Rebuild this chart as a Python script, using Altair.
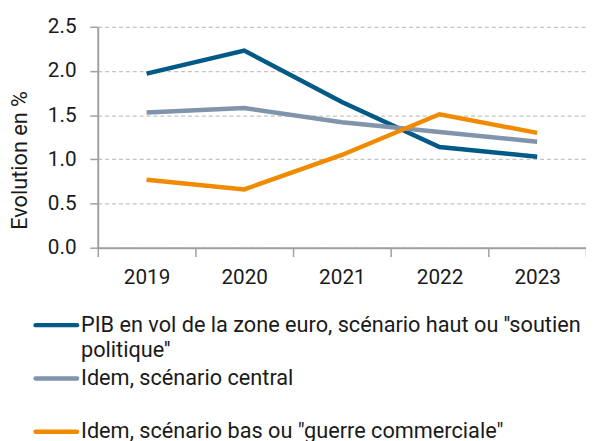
import altair as alt
import pandas as pd

years = ["2019", "2020", "2021", "2022", "2023"]
series = [
    "PIB en vol de la zone euro, scénario haut ou ''soutien|politique''",
    "Idem, scénario central",
    "Idem, scénario bas ou \"guerre commerciale\"",
]
haut = [1.97, 2.23, 1.65, 1.14, 1.03]
central = [1.53, 1.58, 1.42, 1.31, 1.20]
bas = [0.77, 0.66, 1.05, 1.51, 1.30]
colors = ["#005a87", "#8094ab", "#f08a00"]

rows = []
for s, vals in zip(series, [haut, central, bas]):
    for y, v in zip(years, vals):
        rows.append({"Année": y, "Série": s, "Valeur": v})
df = pd.DataFrame(rows)
legend_df = pd.DataFrame({"Série": series})

FONT = "Roboto"
TXT = "#1a1a1a"
AX = "#a0a0a0"
color_scale = alt.Scale(domain=series, range=colors)

main = alt.Chart(df).mark_line(strokeWidth=4.5, interpolate="linear").encode(
    x=alt.X("Année:O", title=None,
            scale=alt.Scale(type="band", paddingInner=0, paddingOuter=0),
            axis=alt.Axis(labelAngle=0, tickBand="extent", grid=False,
                          domainColor=AX, tickColor=AX, tickSize=9, tickWidth=1.5,
                          domainWidth=2, labelPadding=10, labelFontSize=21,
                          labelColor=TXT, labelFont=FONT)),
    y=alt.Y("Valeur:Q", title="Evolution en %",
            scale=alt.Scale(domain=[0, 2.5], nice=False),
            axis=alt.Axis(values=[0, 0.5, 1.0, 1.5, 2.0, 2.5], format=".1f",
                          grid=True, gridDash=[4, 3], gridColor="#c4c4c4", gridWidth=1.3,
                          domainColor=AX, domainWidth=2, tickColor=AX, tickSize=8,
                          tickWidth=1.5,
                          labelFontSize=21, labelColor=TXT, labelFont=FONT,
                          labelPadding=14, titleFont=FONT, titleFontSize=22,
                          titleFontWeight="normal", titleColor=TXT,
                          titlePadding=16, titleY=135)),
    color=alt.Color("Série:N", scale=color_scale, legend=None),
)

legend_y = alt.Y("Série:N", sort=series, bandPosition=0, title=None, axis=None,
                 scale=alt.Scale(type="band", paddingInner=0, paddingOuter=0,
                                 round=False, range=[290, 452]))

legend_rules = alt.Chart(legend_df).mark_rule(strokeWidth=4.5, strokeCap="round").encode(
    x=alt.value(-63), x2=alt.value(-21),
    y=legend_y,
    yOffset=alt.value(12.5),
    color=alt.Color("Série:N", scale=color_scale, legend=None),
)
legend_text = alt.Chart(legend_df).transform_calculate(
    lab="split(datum['Série'], '|')"
).mark_text(align="left", baseline="line-top", lineHeight=26, fontSize=22,
            font=FONT, color=TXT).encode(
    x=alt.value(-17),
    y=legend_y,
    text="lab:N",
)

chart = alt.layer(main, legend_rules, legend_text).resolve_scale(
    y="independent"
).properties(
    width=495, height=224,
    autosize=alt.AutoSizeParams(type="none"),
    padding={"left": 91, "top": 16, "right": 0, "bottom": 200},
).configure_view(stroke=None)

chart.save("out.html", embed_options={"renderer": "svg", "actions": False})
